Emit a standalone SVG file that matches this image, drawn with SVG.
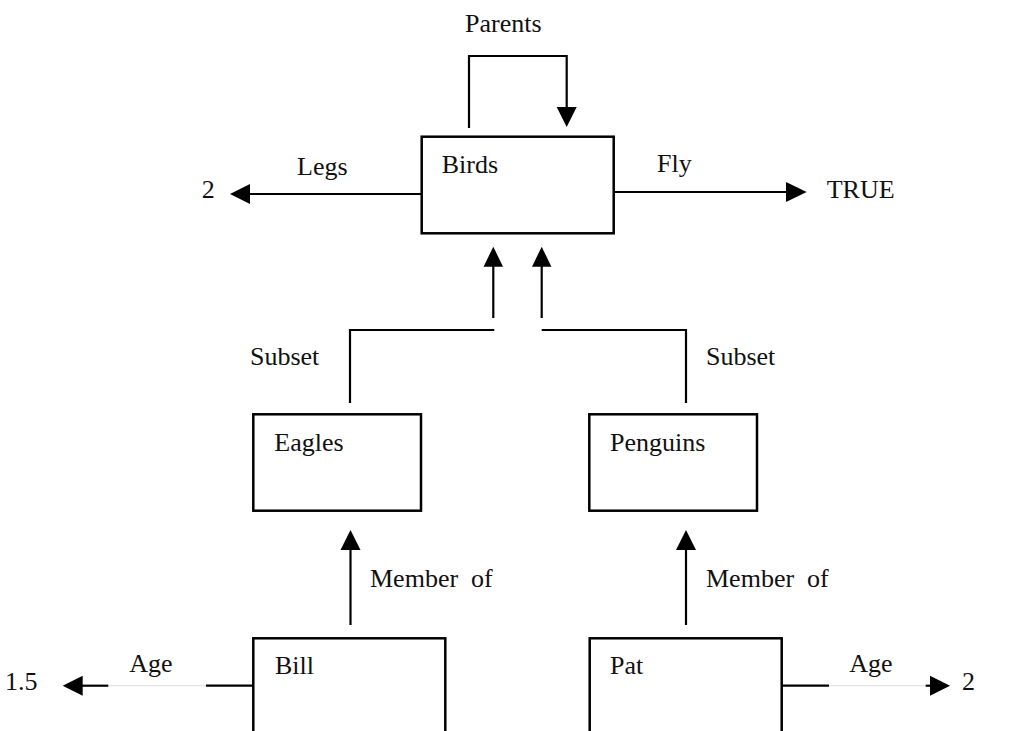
<svg xmlns="http://www.w3.org/2000/svg" width="1031" height="731" viewBox="0 0 1031 731">
  <style>
    text { font-family: "Liberation Serif", "Times New Roman", serif; font-size: 26px; fill: #111; white-space: pre; }
    .box { fill: #fff; stroke: #000; stroke-width: 2.5; }
    .link { fill: none; stroke: #000; stroke-width: 2.2; }
    .faint { fill: none; stroke: #ddd; stroke-width: 1; }
    .head { fill: #000; }
  </style>
  <rect width="1031" height="731" fill="#fff"/>

  <!-- connectors -->
  <g id="connectors">
    <!-- Parents self-loop on Birds -->
    <polyline class="link" points="469,128 469,56 566.7,56 566.7,108"/>
    <polygon class="head" points="556.7,107 576.7,107 566.7,127"/>
    <text x="465" y="32">Parents</text>

    <!-- Legs -->
    <line class="link" x1="421.7" y1="194" x2="248" y2="194"/>
    <polygon class="head" points="230,194 250,184 250,204"/>
    <text x="297" y="175">Legs</text>
    <text x="201.7" y="198">2</text>

    <!-- Fly -->
    <line class="link" x1="613" y1="192" x2="788" y2="192"/>
    <polygon class="head" points="806.7,192 786,182 786,202"/>
    <text x="657" y="172">Fly</text>
    <text x="826.7" y="198">TRUE</text>

    <!-- Subset: Eagles -> Birds -->
    <polyline class="link" points="350,403 350,330 494.3,330"/>
    <line class="link" x1="493.3" y1="318" x2="493.3" y2="265"/>
    <polygon class="head" points="493.3,246.7 483.6,266.7 503,266.7"/>
    <text x="250" y="365">Subset</text>

    <!-- Subset: Penguins -> Birds -->
    <polyline class="link" points="686,403 686,330 541.7,330"/>
    <line class="link" x1="541.7" y1="318" x2="541.7" y2="265"/>
    <polygon class="head" points="541.7,246.7 532,266.7 551.4,266.7"/>
    <text x="706" y="365">Subset</text>

    <!-- Member of: Bill -> Eagles -->
    <line class="link" x1="350.5" y1="625" x2="350.5" y2="548"/>
    <polygon class="head" points="350.5,530 340.5,550 360.5,550"/>
    <text x="370" y="587">Member  of</text>

    <!-- Member of: Pat -> Penguins -->
    <line class="link" x1="686" y1="625" x2="686" y2="548"/>
    <polygon class="head" points="686,530 676,550 696,550"/>
    <text x="706" y="587">Member  of</text>

    <!-- Age: Bill -->
    <line class="link" x1="253.3" y1="685.7" x2="206" y2="685.7"/>
    <line class="faint" x1="206" y1="685.7" x2="108.3" y2="685.7"/>
    <line class="link" x1="108.3" y1="685.7" x2="81" y2="685.7"/>
    <polygon class="head" points="62.7,685.7 82.7,675.7 82.7,695.7"/>
    <text x="129.3" y="672">Age</text>
    <text x="5" y="690">1.5</text>

    <!-- Age: Pat -->
    <line class="link" x1="781.7" y1="685.7" x2="829" y2="685.7"/>
    <line class="faint" x1="829" y1="685.7" x2="925.7" y2="685.7"/>
    <line class="link" x1="925.7" y1="685.7" x2="932" y2="685.7"/>
    <polygon class="head" points="950,685.7 930,675.7 930,695.7"/>
    <text x="849.3" y="672">Age</text>
    <text x="962" y="690">2</text>
  </g>

  <!-- nodes -->
  <g id="birds">
    <rect class="box" x="421.7" y="136.7" width="192" height="96.6"/>
    <text x="441.7" y="173.3">Birds</text>
  </g>
  <g id="eagles">
    <rect class="box" x="253.3" y="414.3" width="167.7" height="96.4"/>
    <text x="274.3" y="451">Eagles</text>
  </g>
  <g id="penguins">
    <rect class="box" x="589.3" y="414.3" width="167.7" height="96.4"/>
    <text x="610" y="451">Penguins</text>
  </g>
  <g id="bill">
    <rect class="box" x="253.3" y="638.3" width="192" height="110"/>
    <text x="275" y="674">Bill</text>
  </g>
  <g id="pat">
    <rect class="box" x="589.7" y="638.3" width="192" height="110"/>
    <text x="610" y="674">Pat</text>
  </g>
</svg>
